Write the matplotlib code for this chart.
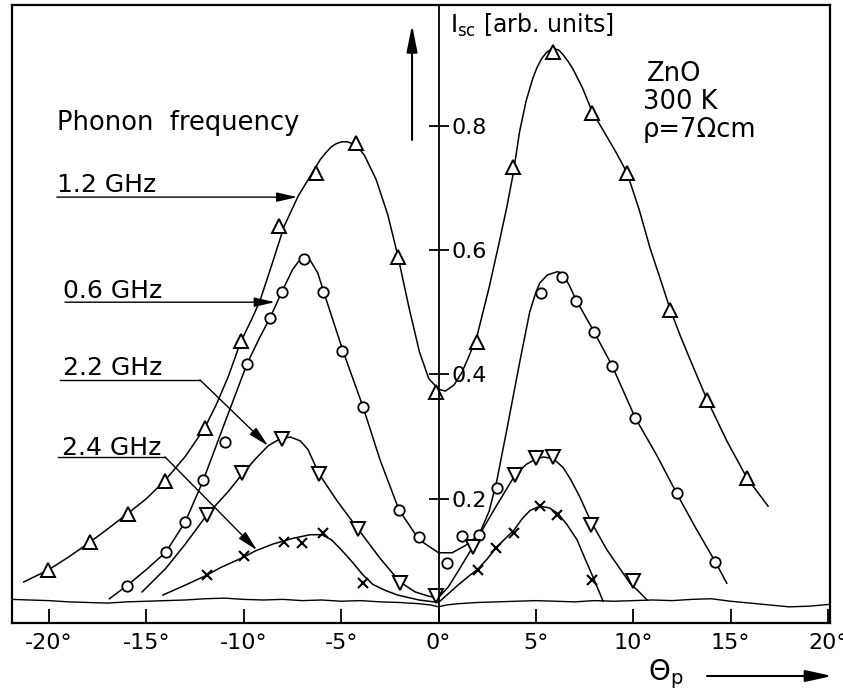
import matplotlib
matplotlib.use("Agg")
import matplotlib.pyplot as plt

# ---- measured points (theta_p in deg, I_sc in arb. units) ----
# 1.2 GHz, open up-triangles
x_12 = [-20.05, -17.89, -15.94, -14.04, -11.99, -10.16, -8.19, -6.29, -4.24, -2.08,
        -0.13, 1.98, 3.83, 5.88, 7.88, 9.68, 11.89, 13.79, 15.84]
y_12 = [0.085, 0.130, 0.175, 0.229, 0.314, 0.454, 0.639, 0.724, 0.772, 0.589,
        0.372, 0.452, 0.734, 0.919, 0.821, 0.724, 0.504, 0.359, 0.233]
# 0.6 GHz, open circles
x_06 = [-15.99, -13.99, -13.02, -12.09, -10.96, -9.83, -8.65, -8.04, -6.91, -5.93,
        -4.95, -3.88, -2.03, -1.00, 0.44, 1.21, 2.08, 3.00, 5.26, 6.34,
        7.06, 7.99, 8.91, 10.10, 12.22, 14.22]
y_06 = [0.060, 0.114, 0.163, 0.230, 0.291, 0.417, 0.491, 0.533, 0.586, 0.533,
        0.437, 0.348, 0.182, 0.138, 0.097, 0.140, 0.142, 0.217, 0.531, 0.557,
        0.518, 0.468, 0.414, 0.330, 0.209, 0.098]
# 2.2 GHz, open down-triangles
x_22 = [-11.89, -10.09, -8.04, -6.14, -4.13, -1.98, -0.15, 1.79, 3.93, 5.00,
        5.86, 7.83, 9.99]
y_22 = [0.174, 0.241, 0.296, 0.240, 0.151, 0.064, 0.044, 0.123, 0.238, 0.265,
        0.267, 0.158, 0.068]
# 2.4 GHz, crosses
x_24 = [-11.89, -9.99, -7.93, -7.01, -5.93, -3.88, 2.03, 2.95, 3.89, 5.21, 6.08, 7.88]
y_24 = [0.077, 0.108, 0.130, 0.129, 0.145, 0.064, 0.085, 0.121, 0.145, 0.188, 0.174, 0.069]

# ---- hand drawn smooth curves ----
cx_12 = [-21.3, -20.05, -19.0, -17.9, -17.0, -16.0, -15.0, -14.05, -13.0, -12.0,
         -11.4, -10.8, -10.16, -9.6, -9.17, -8.5, -7.93, -7.2, -6.6, -6.08,
         -5.8, -5.5, -5.25, -4.97, -4.7, -4.4, -4.1, -3.8, -3.2, -2.6,
         -2.1, -1.5, -0.98, -0.5, 0.0, 0.35, 0.8, 1.2, 1.6, 1.98,
         2.6, 3.1, 3.5, 3.83, 4.16, 4.5, 4.84, 5.05, 5.3, 5.55,
         5.86, 6.15, 6.4, 6.7, 6.92, 7.4, 7.88, 8.5, 9.15, 9.68,
         10.3, 10.86, 11.4, 11.89, 12.4, 12.9, 13.79, 14.8, 15.84, 16.92]
cy_12 = [0.066, 0.085, 0.106, 0.130, 0.151, 0.175, 0.200, 0.229, 0.268, 0.314,
         0.352, 0.396, 0.452, 0.488, 0.518, 0.582, 0.638, 0.687, 0.718, 0.745,
         0.756, 0.766, 0.771, 0.774, 0.774, 0.771, 0.764, 0.752, 0.713, 0.656,
         0.592, 0.505, 0.436, 0.393, 0.376, 0.373, 0.383, 0.403, 0.432, 0.462,
         0.540, 0.610, 0.668, 0.722, 0.790, 0.840, 0.876, 0.893, 0.908, 0.918,
         0.924, 0.922, 0.914, 0.901, 0.890, 0.860, 0.823, 0.790, 0.755, 0.724,
         0.665, 0.603, 0.552, 0.505, 0.463, 0.425, 0.359, 0.293, 0.233, 0.188]

cx_06 = [-16.9, -16.0, -15.0, -14.0, -13.0, -12.1, -11.0, -9.83, -9.2, -8.65,
         -8.04, -7.5, -7.2, -6.91, -6.6, -6.2, -5.9, -5.4, -4.9, -3.88,
         -3.0, -2.03, -1.0, 0.0, 0.7, 1.4, 2.08, 2.6, 3.0, 3.5,
         4.19, 4.68, 5.0, 5.2, 5.6, 6.1, 6.34, 6.7, 7.06, 7.99,
         8.91, 10.1, 11.2, 12.22, 13.2, 14.22, 14.8]
cy_06 = [0.039, 0.060, 0.086, 0.114, 0.163, 0.228, 0.320, 0.417, 0.458, 0.491,
         0.533, 0.568, 0.581, 0.587, 0.584, 0.563, 0.533, 0.485, 0.437, 0.348,
         0.262, 0.182, 0.134, 0.113, 0.113, 0.125, 0.142, 0.180, 0.230, 0.310,
         0.423, 0.500, 0.532, 0.547, 0.560, 0.565, 0.563, 0.544, 0.520, 0.468,
         0.414, 0.330, 0.270, 0.209, 0.153, 0.098, 0.064]

cx_22 = [-15.22, -14.0, -13.0, -11.89, -10.81, -10.09, -9.4, -8.75, -8.1, -7.6,
         -7.1, -6.7, -6.14, -5.2, -4.13, -3.0, -1.98, -1.2, -0.5, 0.0,
         0.5, 1.0, 1.79, 2.4, 3.0, 3.93, 4.5, 5.0, 5.4, 5.9,
         6.4, 6.8, 7.25, 7.83, 8.64, 9.3, 9.83, 10.3, 10.71]
cy_22 = [0.050, 0.088, 0.127, 0.174, 0.211, 0.239, 0.264, 0.285, 0.297, 0.299,
         0.293, 0.279, 0.240, 0.196, 0.151, 0.104, 0.066, 0.050, 0.043, 0.041,
         0.058, 0.083, 0.124, 0.158, 0.190, 0.238, 0.255, 0.264, 0.267, 0.264,
         0.250, 0.230, 0.203, 0.163, 0.118, 0.088, 0.064, 0.050, 0.037]

cx_24 = [-14.15, -13.0, -11.89, -11.2, -10.0, -9.4, -8.5, -7.5, -6.6, -6.0,
         -5.5, -5.0, -4.4, -3.9, -3.37, -2.7, -2.1, -1.0, 0.0, 0.5,
         1.0, 1.5, 2.03, 2.5, 2.95, 3.5, 3.89, 4.3, 4.7, 5.21,
         5.7, 6.14, 6.6, 7.11, 7.5, 7.93, 8.45]
cy_24 = [0.045, 0.061, 0.077, 0.089, 0.106, 0.116, 0.127, 0.136, 0.142, 0.142,
         0.134, 0.118, 0.097, 0.078, 0.062, 0.052, 0.045, 0.037, 0.033, 0.047,
         0.061, 0.074, 0.087, 0.103, 0.121, 0.138, 0.150, 0.168, 0.181, 0.188,
         0.185, 0.176, 0.158, 0.134, 0.105, 0.074, 0.035]

# zero line of the recorder (wavy trace)
bx = [-21.9, -21.0, -20.0, -19.0, -18.0, -17.0, -16.0, -15.0, -14.0, -13.0,
      -12.0, -11.0, -10.0, -9.0, -8.0, -7.0, -6.0, -5.0, -4.0, -3.0,
      -2.0, -1.0, -0.4, 0.0, 0.4, 1.0, 2.0, 3.0, 4.0, 5.0,
      6.0, 7.0, 8.0, 9.0, 10.0, 11.0, 12.0, 13.0, 14.0, 15.0,
      16.0, 17.0, 18.0, 19.0, 20.1]
by = [0.038, 0.037, 0.036, 0.034, 0.033, 0.032, 0.034, 0.035, 0.036, 0.037,
      0.039, 0.040, 0.038, 0.037, 0.038, 0.036, 0.037, 0.035, 0.036, 0.034,
      0.033, 0.031, 0.029, 0.026, 0.029, 0.031, 0.033, 0.034, 0.035, 0.036,
      0.035, 0.034, 0.036, 0.035, 0.036, 0.037, 0.036, 0.038, 0.039, 0.035,
      0.032, 0.029, 0.026, 0.027, 0.030]

xticks = [-20, -15, -10, -5, 0, 5, 10, 15, 20]
xtick_labels = ["-20°", "-15°", "-10°", "-5°", "0°", "5°", "10°", "15°", "20°"]
yticks = [0.2, 0.4, 0.6, 0.8]
ytick_labels = ["0.2", "0.4", "0.6", "0.8"]

plt.rcParams['font.family'] = ['DejaVu Sans']

fig = plt.figure(figsize=(8.43, 6.9), dpi=100)
ax = fig.add_axes([12/843, 1 - 623/690, 818/843, 618/690])
ax.set_xlim(-21.9, 20.1)
ax.set_ylim(0, 0.994)

lw_c = 1.1
ax.plot(bx, by, color='k', lw=1.0)
ax.plot(cx_12, cy_12, color='k', lw=lw_c)
ax.plot(cx_06, cy_06, color='k', lw=lw_c)
ax.plot(cx_22, cy_22, color='k', lw=lw_c)
ax.plot(cx_24, cy_24, color='k', lw=lw_c)

ax.plot(x_12, y_12, ls='none', marker='^', ms=10.5, mfc='white', mec='k', mew=1.4, zorder=3)
ax.plot(x_06, y_06, ls='none', marker='o', ms=7.5, mfc='white', mec='k', mew=1.3, zorder=3)
ax.plot(x_22, y_22, ls='none', marker='v', ms=10.5, mfc='white', mec='k', mew=1.4, zorder=3)
ax.plot(x_24, y_24, ls='none', marker='x', ms=7, mec='k', mew=1.5, zorder=3)

for s in ax.spines.values():
    s.set_linewidth(1.6)
ax.set_xticks(xticks)
ax.set_xticklabels(xtick_labels)
ax.set_yticks([])
ax.tick_params(axis='x', direction='in', length=10, width=1.3, pad=7, labelsize=16)

# vertical axis through 0 deg
ax2 = ax.twinx()
ax2.set_ylim(ax.get_ylim())
for k in ['left', 'top', 'bottom']:
    ax2.spines[k].set_visible(False)
ax2.spines['right'].set_position(('data', 0))
ax2.spines['right'].set_linewidth(1.3)
ax2.set_yticks(yticks)
ax2.set_yticklabels(ytick_labels)
ax2.tick_params(axis='y', direction='inout', length=14, width=1.3, pad=2, labelsize=16)

# labels with arrows
arrow = dict(arrowstyle='-|>,head_length=0.7,head_width=0.16', color='k', lw=1.0,
             shrinkA=0, shrinkB=0, mutation_scale=18)
ax.text(-19.59, 0.793, "Phonon  frequency", fontsize=18.5)

ax.text(-19.59, 0.693, "1.2 GHz", fontsize=18)
ax.annotate('', xy=(-7.25, 0.685), xytext=(-19.6, 0.685), arrowprops=arrow)

ax.text(-19.28, 0.523, "0.6 GHz", fontsize=18)
ax.annotate('', xy=(-8.40, 0.516), xytext=(-19.18, 0.516), arrowprops=arrow)

ax.text(-19.28, 0.399, "2.2 GHz", fontsize=18)
ax.plot([-19.43, -12.25], [0.391, 0.391], color='k', lw=1.0)
ax.annotate('', xy=(-8.75, 0.285), xytext=(-12.25, 0.391), arrowprops=arrow)

ax.text(-19.33, 0.270, "2.4 GHz", fontsize=18)
ax.plot([-19.54, -14.04], [0.267, 0.267], color='k', lw=1.0)
ax.annotate('', xy=(-9.32, 0.117), xytext=(-14.04, 0.267), arrowprops=arrow)

# y arrow and label
ax.annotate('', xy=(-1.36, 0.962), xytext=(-1.36, 0.777),
            arrowprops=dict(arrowstyle='-|>,head_length=0.9,head_width=0.18', color='k',
                            lw=1.5, shrinkA=0, shrinkB=0, mutation_scale=18))
ax.text(0.59, 0.949, r"I$_{\rm sc}$ [arb. units]", fontsize=17)

ax.text(10.71, 0.872, "ZnO", fontsize=18.5)
ax.text(10.5, 0.826, "300 K", fontsize=18.5)
ax.text(10.5, 0.781, "ρ=7Ωcm", fontsize=18.5)

# x label with arrow
fig.text(648/843, 1 - 680/690, r"Θ$_{\rm p}$", fontsize=20)
ax.annotate('', xy=(832/843, 1 - 676/690), xytext=(707/843, 1 - 676/690),
            xycoords='figure fraction', textcoords='figure fraction',
            arrowprops=dict(arrowstyle='-|>,head_length=0.9,head_width=0.2', color='k',
                            lw=1.5, shrinkA=0, shrinkB=0, mutation_scale=18),
            annotation_clip=False)

fig.savefig("out.png", dpi=100)
